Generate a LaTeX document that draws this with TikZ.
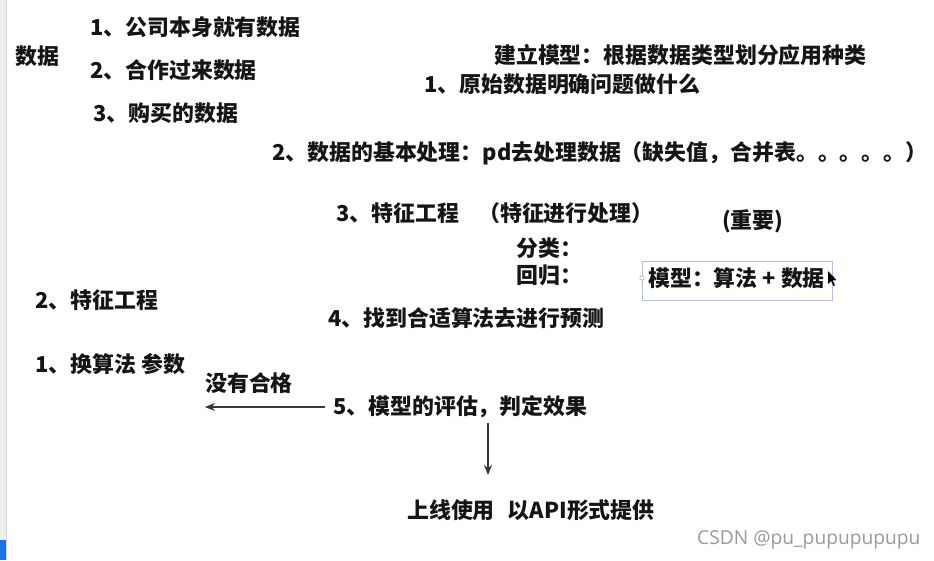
\documentclass[tikz,border=0pt]{standalone}
\usepackage{fontspec}
\setmainfont{Noto Sans CJK SC}
\newfontfamily\wmfont{Open Sans}
\usetikzlibrary{arrows.meta}
\definecolor{txt}{HTML}{151515}
\definecolor{boxc}{HTML}{B4BEDD}
\definecolor{barg}{HTML}{EEEEF0}
\definecolor{barl}{HTML}{D4D4D8}
\definecolor{barb}{HTML}{1A73E8}
\definecolor{wm}{HTML}{9A9A9A}
\tikzset{
  lbl/.style={anchor=west, inner sep=0pt, font=\fontsize{21.9}{23}\selectfont\bfseries, text=txt},
  arr/.style={draw=txt!85, line width=1.7pt, -{Stealth[length=10pt,width=8pt]}},
  handle/.style={circle, draw=gray!70, fill=white, line width=0.5pt, inner sep=0pt, minimum size=4.5pt}
}
\begin{document}
\begin{tikzpicture}[x=1pt,y=-1pt]
\useasboundingbox (0,0) rectangle (934,560);
\fill[white] (0,0) rectangle (934,560);
% left edge bar
\fill[barg] (0,0) rectangle (6,560);
\draw[barl, line width=0.8pt] (6,0) -- (6,560);
\fill[barb] (0,540) rectangle (6.4,560);

\node[lbl] (shuju) at (15,56) {数据};
\node[lbl] (d1) at (90,27) {1、公司本身就有数据};
\node[lbl] (d2) at (90,70) {2、合作过来数据};
\node[lbl] (d3) at (93,113) {3、购买的数据};

\node[lbl] (jl) at (494,55) {建立模型：根据数据类型划分应用种类};
\node[lbl] (s1) at (424,84) {1、原始数据明确问题做什么};
\node[lbl] (s2) at (272,153) {2、数据的基本处理：pd去处理数据（缺失值，合并表。。。。。）};
\node[lbl] (s3) at (336,213) {3、特征工程};
\node[lbl] (s3b) at (478,213) {（特征进行处理）};
\node[lbl] (zy) at (722,221) {(重要)};
\node[lbl] (fl) at (516,248) {分类：};
\node[lbl] (hg) at (516,275) {回归：};

\node[lbl] (mx) at (648,278) {模型：算法 + 数据};
\draw[boxc, line width=0.9pt] (642,261) rectangle (832,300);
\node[handle] (hl) at (642,278) {};
\node[handle] (hr) at (832,278) {};
\fill[black] (828,271) -- (828,284) -- (831,281) -- (833.5,286) -- (835,285.3) -- (832.6,280.4) -- (836.5,280.2) -- cycle;

\node[lbl] (f2) at (35,300) {2、特征工程};
\node[lbl] (s4) at (328,318) {4、找到合适算法去进行预测};
\node[lbl] (c1) at (35,364) {1、换算法 参数};
\node[lbl] (mhg) at (205,383) {没有合格};
\node[lbl] (s5) at (333,407) {5、模型的评估，判定效果};
\node[lbl] (sx) at (407,510) {上线使用\hspace{0.6em}以API形式提供};

\coordinate (back) at (205,407);
\draw[arr] ([xshift=-8pt]s5.west) -- (back);
\coordinate (dtop) at (488,423);
\coordinate (dbot) at (488,475);
\draw[arr] (dtop) -- (dbot);

\node[anchor=west, inner sep=0pt, font=\fontsize{19.2}{21}\selectfont\wmfont, text=wm] (wmk) at (697,540) {CSDN @pu\_pupupupupu};
\end{tikzpicture}
\end{document}
